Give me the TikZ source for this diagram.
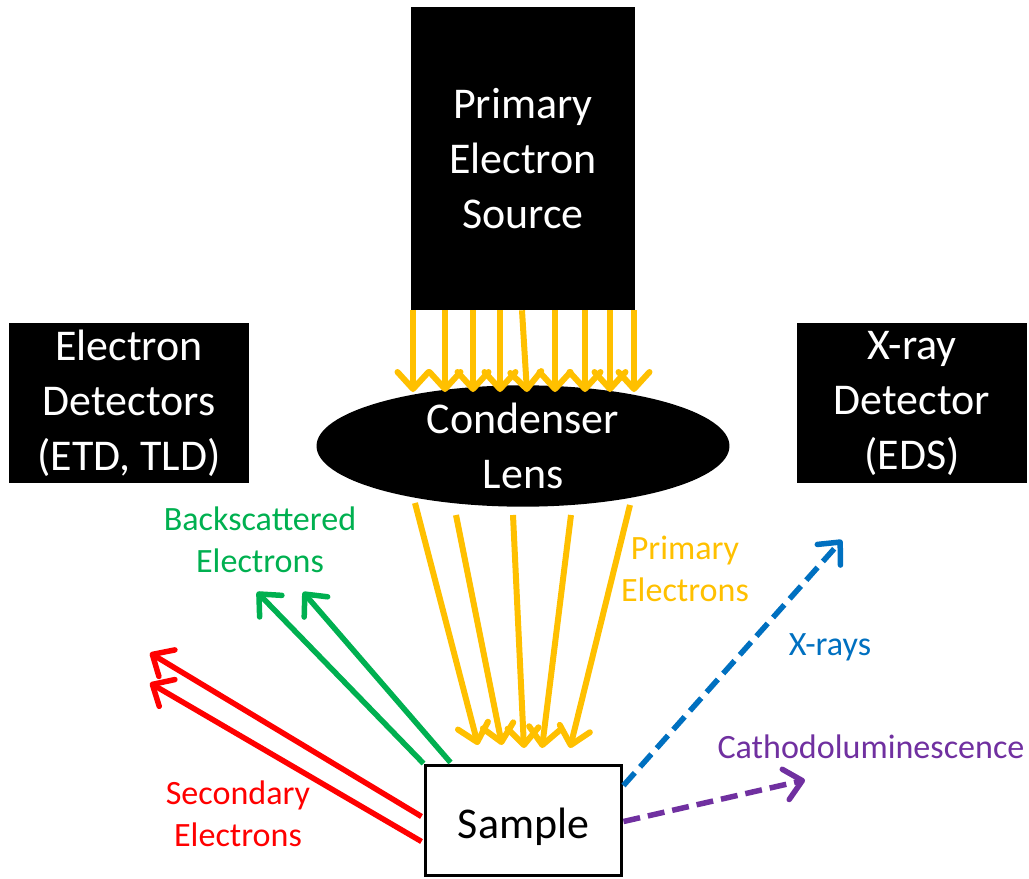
\documentclass[tikz,border=0pt]{standalone}
\usepackage{fontspec}
\setmainfont{Carlito}
\usepackage{tikz}
\usetikzlibrary{arrows.meta,shapes.geometric,calc}
\definecolor{beamyellow}{HTML}{FFC000}
\definecolor{bsegreen}{HTML}{00B050}
\definecolor{sered}{HTML}{FF0000}
\definecolor{xrayblue}{HTML}{0070C0}
\definecolor{clpurple}{HTML}{7030A0}
\newcommand{\bigtext}{\fontsize{25}{31.3}\selectfont}
\newcommand{\smalltext}{\fontsize{19.4}{23.9}\selectfont}
\tikzset{
  blackbox/.style={fill=black,text=white,align=center,font=\bigtext,inner sep=0pt},
  tip/.style={-{Straight Barb[length=0.34cm,width=0.62cm,line join=round,line cap=round]}},
  beam/.style={beamyellow,line width=0.12cm,tip},
  ray/.style={line width=0.11cm,tip},
  dashray/.style={ray,dash pattern=on 0.34cm off 0.16cm},
  lbl/.style={align=center,font=\smalltext,inner sep=0pt}
}

\begin{document}
\begin{tikzpicture}[x=0.02cm,y=-0.02cm]
\useasboundingbox (0,0) rectangle (1029,879);
% boxes
\node[blackbox,minimum width=4.48cm,minimum height=6.06cm] (source) at (523,158.5) {Primary\\Electron\\Source};
\node[blackbox,minimum width=4.8cm,minimum height=3.2cm] (etd) at (129,403) {Electron\\Detectors\\(ETD, TLD)};
\node[blackbox,minimum width=4.6cm,minimum height=3.2cm] (eds) at (912,403) {X-ray\\Detector\\(EDS)};
\node[blackbox,ellipse,minimum width=8.26cm,minimum height=2.24cm] (lens) at (523,446) {Condenser\\Lens};
\node[draw=black,line width=0.06cm,fill=white,font=\bigtext,minimum width=3.94cm,minimum height=2.22cm] (sample) at (523.5,820.5) {\raisebox{-0.13cm}[\height][\depth]{Sample}};
% beam from the source onto the lens
\foreach \a/\b in {413/413,445/445,473/473,500/500,522/527,555/555,585/585,610/610,634/634}
  \draw[beam] (\a,0 |- source.south) -- (\b,392);
% beam from the lens onto the sample
\foreach \a/\sy/\b/\ey in {415/503/478/745,456/515/502/745,513/515/524/748,571/515/542/748,630/505/570/748}
  \draw[beam] (\a,\sy) -- (\b,\ey);
% signals leaving the sample
\coordinate (bse1) at (257,592);
\coordinate (bse2) at (303,592);
\coordinate (se1) at (150,653);
\coordinate (se2) at (150,683);
\coordinate (xr) at (842,540);
\coordinate (cl) at (805,780);
\draw[ray,bsegreen] (sample.north west) -- (bse1);
\draw[ray,bsegreen] ($(sample.north west)+(27,-1)$) -- (bse2);
\draw[ray,sered] ($(sample.north west)+(-2,53)$) -- (se1);
\draw[ray,sered] ($(sample.north west)+(-2,78)$) -- (se2);
\draw[dashray,xrayblue] ($(sample.north east)+(0,22)$) -- (xr);
\draw[dashray,clpurple] ($(sample.north east)+(0,58)$) -- (cl);
% labels
\node[lbl,bsegreen] (bselabel) at (260,540) {Backscattered\\Electrons};
\node[lbl,sered] (selabel) at (238,814) {Secondary\\Electrons};
\node[lbl,beamyellow] (pelabel) at (685,569) {Primary\\Electrons};
\node[lbl,xrayblue] (xlabel) at (830,647) {X-rays};
\node[lbl,clpurple] (cllabel) at (871,747) {Cathodoluminescence};
\end{tikzpicture}
\end{document}
